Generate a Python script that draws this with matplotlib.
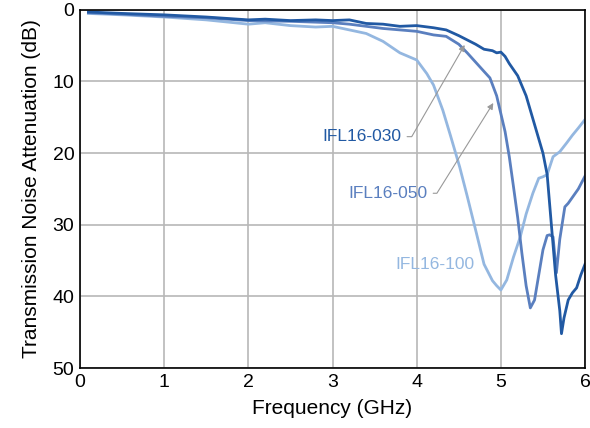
import matplotlib
matplotlib.use('Agg')
import matplotlib.pyplot as plt

plt.rcParams['font.family'] = ['Liberation Sans', 'DejaVu Sans']

# IFL16-030
f030 = [0.1, 0.5, 1.0, 1.5, 2.0, 2.2, 2.5, 2.8, 3.0, 3.2, 3.4, 3.6, 3.8, 4.0, 4.2,
        4.35, 4.5, 4.6, 4.7, 4.8, 4.9, 4.95, 5.0, 5.05, 5.1, 5.2, 5.3, 5.4, 5.5,
        5.55, 5.6, 5.65, 5.7, 5.72, 5.75, 5.8, 5.85, 5.9, 5.95, 6.0]
a030 = [0.3, 0.5, 0.7, 1.0, 1.4, 1.3, 1.5, 1.4, 1.5, 1.4, 1.9, 2.0, 2.3, 2.2, 2.5,
        2.8, 3.6, 4.2, 4.8, 5.5, 5.7, 6.0, 5.9, 6.5, 7.5, 9.2, 12.0, 16.0, 20.0,
        23.0, 30.0, 37.0, 42.0, 45.2, 43.0, 40.5, 39.5, 38.8, 37.0, 35.5]

# IFL16-050
f050 = [0.1, 0.5, 1.0, 1.5, 2.0, 2.5, 3.0, 3.2, 3.4, 3.6, 3.8, 4.0, 4.2, 4.35, 4.5,
        4.6, 4.7, 4.8, 4.87, 4.95, 5.0, 5.05, 5.1, 5.15, 5.2, 5.25, 5.3, 5.35, 5.4,
        5.45, 5.5, 5.55, 5.58, 5.62, 5.66, 5.7, 5.76, 5.8, 5.86, 5.92, 6.0]
a050 = [0.4, 0.6, 0.9, 1.1, 1.5, 1.6, 1.8, 2.0, 2.3, 2.6, 2.8, 3.0, 3.5, 3.7, 4.8,
        6.0, 7.3, 8.6, 9.5, 12.0, 14.5, 17.0, 20.5, 24.7, 29.0, 34.0, 38.5, 41.6, 40.5,
        37.0, 33.5, 31.5, 31.4, 31.7, 36.7, 32.0, 27.5, 27.0, 26.0, 25.0, 23.2]

# IFL16-100
f100 = [0.1, 0.5, 1.0, 1.5, 2.0, 2.2, 2.5, 2.8, 3.0, 3.2, 3.4, 3.6, 3.8, 4.0, 4.12,
        4.2, 4.31, 4.4, 4.51, 4.6, 4.71, 4.8, 4.9, 4.95, 5.0, 5.07, 5.15, 5.23, 5.3,
        5.38, 5.45, 5.5, 5.55, 5.62, 5.7, 5.78, 5.85, 5.92, 6.0]
a100 = [0.5, 0.7, 1.0, 1.4, 2.0, 1.8, 2.2, 2.4, 2.3, 2.8, 3.3, 4.4, 6.0, 7.0, 8.9,
        10.5, 14.0, 17.5, 21.9, 26.0, 31.2, 35.5, 37.8, 38.5, 39.1, 37.7, 34.5, 31.7, 28.5,
        25.6, 23.5, 23.3, 23.0, 20.5, 19.8, 18.6, 17.5, 16.5, 15.3]

c030 = '#2159a3'
c050 = '#5a7fbf'
c100 = '#94b7e0'

fig = plt.figure(figsize=(5.9, 4.28), dpi=100)
ax = fig.add_axes([0.1356, 0.140, 0.856, 0.837])

ax.plot(f100, a100, color=c100, lw=2)
ax.plot(f050, a050, color=c050, lw=2)
ax.plot(f030, a030, color=c030, lw=2)

ax.set_xlim(0, 6)
ax.set_ylim(50, 0)
ax.set_xticks(range(0, 7))
ax.set_yticks(range(0, 51, 10))
ax.tick_params(length=0, labelsize=14, pad=4)
ax.grid(True, color='#b8b8b8', lw=1.2)
ax.set_axisbelow(True)
for s in ax.spines.values():
    s.set_linewidth(1.2)
ax.set_xlabel('Frequency (GHz)', fontsize=15, labelpad=6)
ax.set_ylabel('Transmission Noise Attenuation (dB)', fontsize=15, labelpad=8)

arr = dict(arrowstyle='-|>', color='#999999', lw=0.8, mutation_scale=9,
           shrinkA=2, shrinkB=0, relpos=(1, 0.5))
ax.annotate('IFL16-030', xy=(4.57, 4.9), xytext=(3.82, 17.7), ha='right', va='center',
            fontsize=12.5, color=c030,
            arrowprops=dict(arr, connectionstyle='angle,angleA=0,angleB=60,rad=0'))
ax.annotate('IFL16-050', xy=(4.91, 13.0), xytext=(4.13, 25.6), ha='right', va='center',
            fontsize=12.5, color=c050,
            arrowprops=dict(arr, connectionstyle='angle,angleA=0,angleB=58,rad=0'))
ax.text(4.22, 35.6, 'IFL16-100', ha='center', va='center', fontsize=12.5, color=c100)

fig.savefig('out.png', dpi=100)
